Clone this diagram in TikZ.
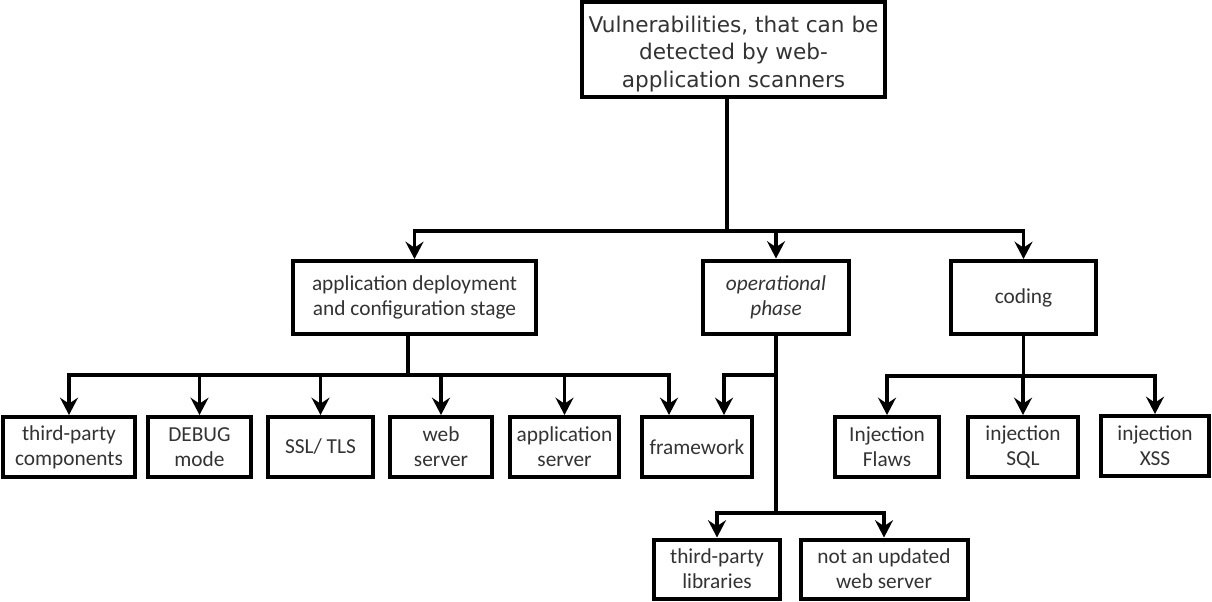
\documentclass[tikz,border=0pt]{standalone}
\usepackage{fontspec}
\setmainfont{Carlito}
\newfontfamily\verdfont{DejaVu Sans}
\usetikzlibrary{arrows.meta}
\definecolor{ink}{HTML}{333333}
\begin{document}
\begin{tikzpicture}[x=0.75pt,y=-0.75pt,
  box/.style={draw=black,line width=3pt,fill=white,inner sep=0pt,align=center,
    text=ink,font=\fontsize{16}{18.75}\selectfont},
  link/.style={line width=2.4pt,draw=black},
  arr/.style={link,-{Stealth[length=13pt,width=13.5pt,inset=4.5pt]}}]
\useasboundingbox (0,0) rectangle (1212,601);

% root
\node[box,minimum width=303*0.75pt,minimum height=95*0.75pt,
  font=\verdfont\fontsize{16.2}{20.5}\selectfont] (top) at (733.5,49.5)
  {\rule{0pt}{19pt}Vulnerabilities, that can be\\detected by web-\\application scanners};

% stages
\node[box,minimum width=243*0.75pt,minimum height=73*0.75pt] (app) at (414.5,297.5)
  {application deployment\\and configuration stage};
\node[box,minimum width=146*0.75pt,minimum height=73*0.75pt,
  font=\itshape\fontsize{16}{18.75}\selectfont] (op) at (776,297)
  {operational\\phase};
\node[box,minimum width=145*0.75pt,minimum height=73*0.75pt] (code) at (1023.5,297.5)
  {coding};

% deployment items
\node[box,minimum width=132*0.75pt,minimum height=60*0.75pt] (tpc) at (69,447) {third-party\\components};
\node[box,minimum width=103*0.75pt,minimum height=60*0.75pt] (dbg) at (199.5,447) {DEBUG\\mode};
\node[box,minimum width=105*0.75pt,minimum height=60*0.75pt] (ssl) at (320.5,447) {SSL/ TLS};
\node[box,minimum width=102*0.75pt,minimum height=60*0.75pt] (web) at (441,447) {web\\server};
\node[box,minimum width=109*0.75pt,minimum height=60*0.75pt] (aps) at (564.5,447) {application\\server};
\node[box,minimum width=110*0.75pt,minimum height=60*0.75pt] (fw) at (697,447) {framework};

% coding items
\node[box,minimum width=104*0.75pt,minimum height=60*0.75pt] (inj) at (887,447) {Injection\\Flaws};
\node[box,minimum width=110*0.75pt,minimum height=60*0.75pt] (sql) at (1023,447) {injection\\SQL};
\node[box,minimum width=108*0.75pt,minimum height=60*0.75pt] (xss) at (1155,446) {injection\\XSS};

% operational items
\node[box,minimum width=126*0.75pt,minimum height=59*0.75pt] (lib) at (717,569) {third-party\\libraries};
\node[box,minimum width=167*0.75pt,minimum height=59*0.75pt] (upd) at (884,569) {not an updated\\web server};

% root to stages
\coordinate (t0) at (727,231);
\draw[link] (top.south -| t0) -- (t0);
\draw[arr] (t0) -| (app.north);
\draw[arr] (t0) -| (op.north);
\draw[arr] (t0) -| (code.north);

% deployment branch
\coordinate (a0) at (408,375);
\draw[link] (app.south -| a0) -- (a0);
\draw[arr] (a0) -| (tpc.north);
\draw[arr] (a0) -| (dbg.north);
\draw[arr] (a0) -| (ssl.north);
\draw[arr] (a0) -| (web.north);
\draw[arr] (a0) -| (aps.north);
\draw[arr] (a0) -| ([xshift=-21pt]fw.north);

% operational branch
\coordinate (o1) at (776,375);
\coordinate (o2) at (776,513);
\draw[link] (op.south) -- (o2);
\draw[arr] (o1) -| ([xshift=20.25pt]fw.north);
\draw[arr] (o2) -| (lib.north);
\draw[arr] (o2) -| (upd.north);

% coding branch
\coordinate (c0) at (1023.5,376);
\draw[link] (code.south) -- (c0);
\draw[arr] (c0) -| (inj.north);
\draw[arr] (c0) -| (sql.north);
\draw[arr] (c0) -| (xss.north);
\end{tikzpicture}
\end{document}
